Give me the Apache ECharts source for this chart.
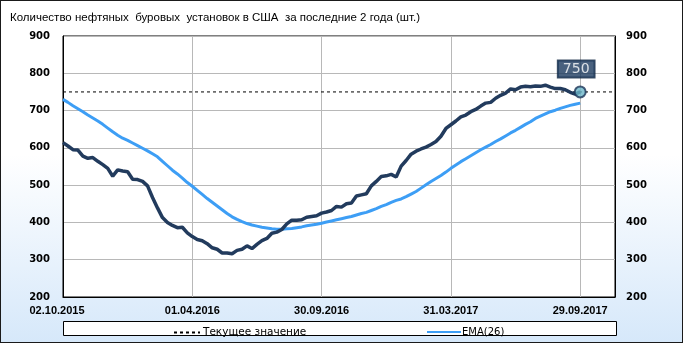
<!DOCTYPE html>
<html><head><meta charset="utf-8">
<script src="https://cdn.jsdelivr.net/npm/echarts@6/dist/echarts.min.js"></script>
<style>
html,body{margin:0;padding:0;}
#wrap{position:absolute;left:0;top:0;width:683px;height:343px;box-sizing:border-box;border:1px solid #1a1a1a;background:linear-gradient(to bottom,#ffffff 0%,#ffffff 45%,#d6e8fa 100%);}
#c{position:absolute;left:0;top:0;width:683px;height:343px;}
</style></head><body><div id="wrap"></div><div id="c"></div>
<script>
const titleText = 'Количество нефтяных  буровых  установок в США  за последние 2 года (шт.)';
const tickLabels = ['02.10.2015','01.04.2016','30.09.2016','31.03.2017','29.09.2017'];
const yTicks = [200,300,400,500,600,700,800,900];
const weeksPerTick = 26;
const axisMaxWeek = 111;
const rigCount = [614,605,595,594,578,572,574,564,555,545,
524,541,538,536,516,515,510,498,467,439,
413,400,392,386,387,372,362,354,351,343,
332,328,318,318,316,325,328,337,330,341,
351,357,371,374,381,396,406,406,407,414,
416,418,425,428,432,443,441,450,452,471,
474,477,498,510,523,525,529,522,551,566,
583,591,597,602,609,617,631,652,662,672,
683,688,697,703,712,720,722,733,741,747,
758,756,763,765,764,766,765,768,763,759,
759,756,749,744,750];
const ema26 = [730,722,713,705,697,688,680,672,663,653,
643,634,626,620,613,606,599,592,584,576,
564,552,540,530,519,507,497,486,475,464,
454,444,434,424,415,408,402,397,393,390,
387,385,383,382,382,383,384,386,388,391,
393,395,398,401,404,407,410,413,416,420,
424,427,432,437,443,448,454,459,463,469,
476,483,492,501,510,518,526,535,545,554,
563,571,579,587,595,602,609,617,624,632,
640,647,655,663,670,679,685,691,697,701,
706,710,714,717,720];
const seriesNames = ['Текущее значение','EMA(26)','Нефтяные буровые'];

const lastIdx = rigCount.length - 1;
const lastVal = rigCount[lastIdx];
const FONT = 'DejaVu Sans';
const GRID = {left: 63, top: 36, right: 68, bottom: 46};
const yMin = yTicks[0], yMax = yTicks[yTicks.length - 1];
const splitStyle = {color: '#b8b8b8', width: 1, type: 'solid'};

const chart = echarts.init(document.getElementById('c'));
chart.setOption({
  animation: false,
  title: {text: titleText, left: 5, top: 7, textStyle: {fontFamily: 'Liberation Sans', fontSize: 11.5, fontWeight: 'normal', color: '#000'}},
  grid: {left: GRID.left, top: GRID.top, right: GRID.right, bottom: GRID.bottom, show: true, backgroundColor: '#ffffff', borderColor: '#000', borderWidth: 1},
  graphic: [
    {type: 'rect', z: 1, shape: {x: 63.5, y: 321.5, width: 553, height: 14}, style: {fill: '#fff', stroke: '#000', lineWidth: 1}}
  ],
  legend: [
    {data: [seriesNames[0]], left: 168, top: 322, itemWidth: 26, itemHeight: 10, z: 5, itemGap: 4,
     itemStyle: {opacity: 0},
     textStyle: {fontFamily: FONT, fontSize: 10.5, color: '#000', padding: [0, 0, 0, -2]}},
    {data: [seriesNames[1]], left: 421, top: 322, itemWidth: 34, itemHeight: 10, z: 5,
     itemStyle: {opacity: 0},
     textStyle: {fontFamily: FONT, fontSize: 10, color: '#000', padding: [0, 0, 0, -4]}}
  ],
  xAxis: {type: 'value', min: 0, max: axisMaxWeek, interval: weeksPerTick,
    axisLine: {show: true, lineStyle: {color: '#000'}}, axisTick: {show: false},
    splitLine: {show: true, lineStyle: splitStyle},
    axisLabel: {margin: 8, showMinLabel: true, showMaxLabel: true, fontFamily: 'Liberation Sans', fontSize: 11, fontWeight: 'bold', color: '#000',
      rich: {first: {fontFamily: 'Liberation Sans', fontSize: 11, fontWeight: 'bold', color: '#000', padding: [0, 12, 0, 0]}},
      formatter: v => {
        const k = v / weeksPerTick;
        if (v % weeksPerTick !== 0 || !tickLabels[k]) return '';
        return k === 0 ? '{first|' + tickLabels[k] + '}' : tickLabels[k];
      }}},
  yAxis: [
    {type: 'value', position: 'left', min: yMin, max: yMax, interval: 100,
     axisLine: {show: true, lineStyle: {color: '#000'}}, axisTick: {show: false},
     splitLine: {show: true, lineStyle: splitStyle},
     axisLabel: {margin: 13, fontFamily: FONT, fontSize: 10, fontWeight: 'bold', color: '#000'}},
    {type: 'value', position: 'right', min: yMin, max: yMax, interval: 100,
     axisLine: {show: true, lineStyle: {color: '#000'}}, axisTick: {show: false}, splitLine: {show: false},
     axisLabel: {margin: 11, fontFamily: FONT, fontSize: 10, fontWeight: 'bold', color: '#000'}}
  ],
  series: [
    {name: seriesNames[0], type: 'line', symbol: 'none', z: 2,
     lineStyle: {color: '#000', width: 1, type: [3, 3]}, itemStyle: {color: '#000'},
     data: [[0, lastVal], [axisMaxWeek, lastVal]]},
    {name: seriesNames[1], type: 'line', symbol: 'none', z: 3,
     lineStyle: {color: '#3d9ef5', width: 3}, itemStyle: {color: '#3d9ef5'},
     data: ema26.map((v, i) => [i, v])},
    {name: seriesNames[2], type: 'line', symbol: 'none', z: 4,
     lineStyle: {color: '#223b5d', width: 3.5}, itemStyle: {color: '#223b5d'},
     data: rigCount.map((v, i) => [i, v])},
    {type: 'scatter', z: 6, symbol: 'circle', symbolSize: 11,
     itemStyle: {color: '#6db6c9', borderColor: '#1b3557', borderWidth: 2},
     label: {show: true, position: 'top', distance: 8, offset: [-4, 0], formatter: p => String(p.value[1]),
       backgroundColor: '#1b3a5e', borderColor: '#0c2340', borderWidth: 1, padding: [2, 5, 1, 5],
       color: '#fff', fontFamily: FONT, fontSize: 14},
     data: [[lastIdx, lastVal]]}
  ]
});
</script></body></html>
